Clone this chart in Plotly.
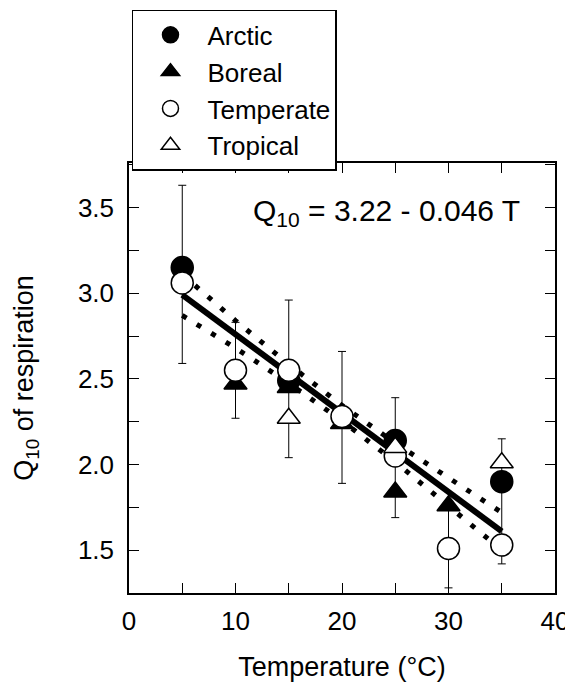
import plotly.graph_objects as go

FONT = "Liberation Sans, Arial, Helvetica, sans-serif"

# mean Q10 by biome
arctic_t = [5, 15, 25, 35]
arctic_q = [3.15, 2.49, 2.14, 1.90]
boreal_t = [10, 15, 20, 25, 30]
boreal_q = [2.47, 2.45, 2.24, 1.84, 1.76]
temperate_t = [5, 10, 15, 20, 25, 30, 35]
temperate_q = [3.06, 2.55, 2.55, 2.28, 2.05, 1.51, 1.53]
tropical_t = [15, 25, 35]
tropical_q = [2.27, 2.10, 2.01]

# error bars (low / high ends) at each temperature
err_t = [5, 10, 15, 20, 25, 30, 35]
err_lo = [2.59, 2.27, 2.04, 1.89, 1.69, 1.28, 1.42]
err_hi = [3.63, 2.83, 2.96, 2.66, 2.39, 1.76, 2.15]

# regression Q10 = 3.22 - 0.046 T and its confidence band
fit_t = [5, 35]
fit_q = [2.99, 1.61]
band_t = [5, 10, 15, 20, 25, 30, 35]
band_hi = [3.11, 2.84, 2.585, 2.345, 2.125, 1.92, 1.72]
band_lo = [2.87, 2.68, 2.475, 2.255, 2.015, 1.76, 1.50]

fig = go.Figure()

mid = [(lo + hi) / 2 for lo, hi in zip(err_lo, err_hi)]
fig.add_scatter(
    x=err_t,
    y=mid,
    mode="markers",
    marker=dict(size=1, opacity=0),
    error_y=dict(
        type="data",
        symmetric=False,
        array=[h - m for h, m in zip(err_hi, mid)],
        arrayminus=[m - lo for m, lo in zip(mid, err_lo)],
        color="black",
        thickness=1,
        width=4,
    ),
    showlegend=False,
    hoverinfo="skip",
)

for band in (band_hi, band_lo):
    fig.add_scatter(
        x=band_t,
        y=band,
        mode="lines",
        line=dict(color="black", width=5, dash="5px,12px"),
        showlegend=False,
        hoverinfo="skip",
    )

fig.add_scatter(
    x=fit_t,
    y=fit_q,
    mode="lines",
    line=dict(color="black", width=6),
    showlegend=False,
)

series = [
    ("Arctic", arctic_t, arctic_q, "circle", "black"),
    ("Boreal", boreal_t, boreal_q, "triangle-up", "black"),
    ("Temperate", temperate_t, temperate_q, "circle", "white"),
    ("Tropical", tropical_t, tropical_q, "triangle-up", "white"),
]
for name, t, q, symbol, fill in series:
    fig.add_scatter(
        x=t,
        y=q,
        mode="markers",
        name=name,
        marker=dict(
            symbol=symbol,
            size=22 if symbol == "circle" else 20,
            color=fill,
            line=dict(color="black", width=1.5),
        ),
    )

fig.add_annotation(
    x=36.9,
    y=3.47,
    xref="x",
    yref="y",
    text="Q<sub>10</sub> = 3.22 - 0.046 T",
    showarrow=False,
    xanchor="right",
    yanchor="middle",
    font=dict(size=30, color="black"),
)

axis_style = dict(
    showline=True,
    linecolor="black",
    linewidth=1.5,
    mirror="ticks",
    ticks="inside",
    ticklen=10,
    tickwidth=1,
    tickcolor="black",
    showgrid=False,
    zeroline=False,
    tickfont=dict(size=26, color="black"),
    title_font=dict(size=27, color="black"),
)

fig.update_xaxes(
    range=[0, 40],
    dtick=10,
    tick0=0,
    ticklabelstandoff=4,
    minor=dict(dtick=5, ticks="inside", ticklen=10, tickcolor="black", showgrid=False),
    title_text="Temperature (°C)",
    title_standoff=27,
    **axis_style,
)
fig.update_yaxes(
    range=[1.25, 3.76],
    dtick=0.5,
    tick0=1.5,
    tickformat=".1f",
    ticklabelstandoff=8,
    minor=dict(dtick=0.25, ticks="inside", ticklen=10, tickcolor="black", showgrid=False),
    title_text="Q<sub>10</sub> of respiration",
    title_standoff=36,
    **axis_style,
)

# the page body adds an 8px offset, so the figure is 8px smaller than the window
fig.update_layout(
    width=565,
    height=674,
    margin=dict(l=121, r=18, t=155, b=89, autoexpand=False),
    paper_bgcolor="white",
    plot_bgcolor="white",
    font=dict(family=FONT, color="black"),
    legend=dict(
        x=0.007,
        y=1.356,
        xanchor="left",
        yanchor="top",
        bordercolor="black",
        borderwidth=1.5,
        bgcolor="white",
        font=dict(size=26, color="black"),
        itemsizing="trace",
        itemwidth=64,
        entrywidth=194,
        tracegroupgap=0,
    ),
)

fig.write_html("out.html")
